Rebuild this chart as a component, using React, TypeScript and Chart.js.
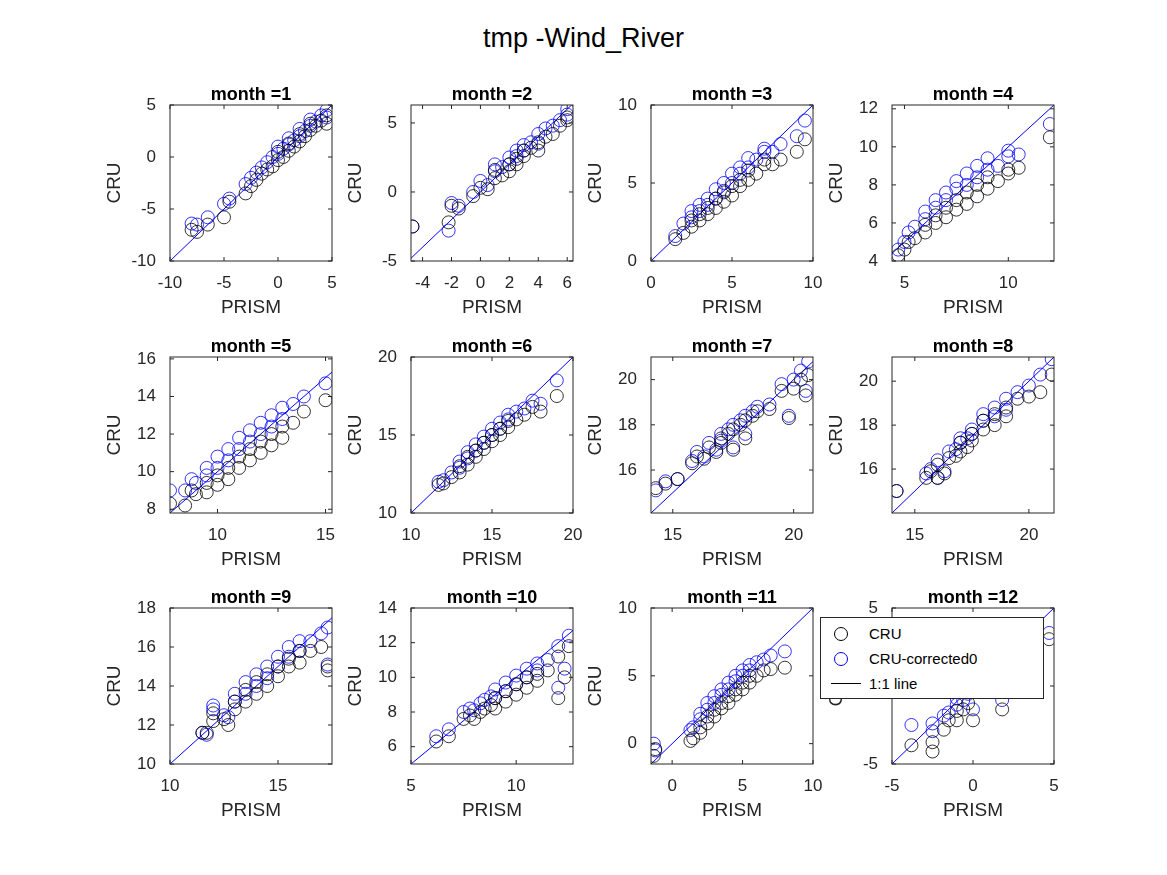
import { useEffect, useRef } from "react"
import { Chart, registerables } from "chart.js"

Chart.register(...registerables)

// PRISM (x), CRU (black) and CRU-corrected0 (blue) per month
const prism1 = [-8, -7.5, -6.5, -5, -4.5, -3, -2.5, -2, -1.5, -1, -0.5, 0, 0, 0.5, 1, 1, 1.5, 2, 2, 2.5, 3, 3, 3.5, 4, 4.5, 4.5]
const cru1 = [-7, -7.2, -6.5, -5.8, -4.3, -3.5, -2.8, -2.2, -1.6, -1.2, -0.9, -0.3, 0.5, 0, 0.6, 1.3, 1.0, 1.5, 2.2, 2.0, 2.6, 3.2, 3, 3.5, 3.2, 4]
const corr1 = [-6.4, -6.5, -5.8, -4.5, -4, -2.6, -2, -1.5, -1, -0.5, 0, 0.3, 1, 0.8, 1.2, 1.8, 1.6, 2, 2.7, 2.5, 3, 3.6, 3.4, 4, 3.8, 4.5]

const prism2 = [-4.7, -2.2, -2, -1.5, -0.5, 0, 0.5, 1, 1, 1.5, 2, 2, 2.5, 2.5, 3, 3, 3.5, 4, 4, 4.5, 5, 5.5, 6, 6]
const cru2 = [-2.5, -2.2, -1, -1.2, -0.3, 0.3, 0.2, 1, 1.6, 1.2, 2, 1.5, 2.4, 2, 3, 2.6, 3.2, 3.6, 3, 4, 4.2, 4.8, 5.2, 5.4]
const corr2 = [-2.5, -2.8, -0.8, -1, 0, 0.8, 0.5, 1.5, 2, 1.8, 2.5, 2, 3, 2.6, 3.4, 3, 3.6, 4.2, 3.5, 4.6, 4.8, 5.2, 5.6, 6]

const prism3 = [1.5, 2, 2.5, 2.5, 3, 3, 3.5, 3.5, 4, 4, 4.5, 4.5, 5, 5, 5.5, 5.5, 6, 6, 6.5, 7, 7, 7.5, 8, 9, 9.5]
const cru3 = [1.4, 1.8, 2.2, 2.6, 2.6, 3, 3, 3.4, 3.4, 4, 3.8, 4.4, 4.2, 4.8, 4.8, 5.2, 5.2, 5.8, 5.6, 6.2, 6.5, 6.2, 6.5, 7, 7.8]
const corr3 = [1.6, 2.4, 2.8, 3.2, 3.2, 3.6, 3.6, 4, 4, 4.6, 4.5, 5, 5, 5.6, 5.6, 6, 6, 6.6, 6.5, 7, 7.2, 7, 7.5, 8, 9]

const prism4 = [4.7, 5, 5.2, 5.5, 6, 6, 6.5, 6.5, 7, 7, 7.5, 7.5, 8, 8, 8.5, 8.5, 9, 9, 9.5, 10, 10, 10.5, 12]
const cru4 = [4.3, 4.6, 5, 5.2, 5.5, 5.9, 6, 6.4, 6.3, 6.8, 6.7, 7.2, 7, 7.6, 7.4, 8, 7.8, 8.4, 8.2, 8.6, 8.8, 8.9, 10.5]
const corr4 = [4.6, 5, 5.5, 5.8, 6.2, 6.6, 6.8, 7.2, 7.2, 7.6, 7.8, 8.2, 8, 8.6, 8.4, 9, 8.8, 9.4, 9, 9.5, 9.8, 9.6, 11.2]

const prism5 = [7.8, 8.5, 8.8, 9, 9.5, 9.5, 10, 10, 10.5, 10.5, 11, 11, 11.5, 11.5, 12, 12, 12.5, 12.5, 13, 13, 13.5, 14, 15]
const cru5 = [8.3, 8.2, 9, 8.8, 8.9, 9.4, 9.3, 9.8, 9.6, 10.2, 10.2, 10.8, 10.6, 11.2, 11, 11.6, 11.4, 12, 11.8, 12.4, 12.6, 13.2, 13.8]
const corr5 = [9, 9, 9.6, 9.4, 9.8, 10.2, 10.2, 10.8, 10.6, 11.2, 11.2, 11.8, 11.6, 12.2, 12, 12.6, 12.4, 13, 12.8, 13.4, 13.6, 14, 14.7]

const prism6 = [11.7, 12, 12.5, 13, 13, 13.5, 13.5, 14, 14, 14.5, 14.5, 15, 15, 15.5, 15.5, 16, 16, 16.5, 17, 17.5, 18, 19]
const cru6 = [11.8, 11.9, 12.3, 12.6, 13, 13.1, 13.6, 13.6, 14, 14.1, 14.5, 14.6, 15, 15, 15.4, 15.5, 15.9, 16, 16.3, 16.8, 16.5, 17.5]
const corr6 = [12, 12.1, 12.6, 12.9, 13.3, 13.5, 13.9, 14, 14.4, 14.5, 14.9, 15, 15.4, 15.4, 15.8, 16, 16.3, 16.5, 16.7, 17.2, 17, 18.5]

const prism7 = [14.3, 14.7, 15.2, 15.8, 16, 16.3, 16.5, 16.8, 17, 17, 17.3, 17.5, 17.5, 17.8, 18, 18, 18.3, 18.5, 19, 19.5, 19.8, 20, 20.3, 20.5, 20.6]
const cru7 = [15.2, 15.4, 15.6, 16.3, 16.6, 16.5, 17, 16.8, 17.4, 17.2, 17.6, 17.8, 16.9, 18, 18.2, 17.4, 18.4, 18.6, 18.7, 19.5, 18.3, 19.6, 20, 19.3, 20.2]
const corr7 = [15.1, 15.5, 15.6, 16.4, 16.8, 16.6, 17.2, 16.9, 17.6, 17.3, 17.8, 18, 17, 18.2, 18.4, 17.6, 18.6, 18.8, 18.9, 19.8, 18.4, 20, 20.4, 19.5, 20.8]

const prism8 = [14.2, 15.5, 15.7, 16, 16, 16.3, 16.5, 16.8, 17, 17, 17.3, 17.5, 17.5, 18, 18, 18.5, 18.5, 19, 19, 19.5, 20, 20.5, 21]
const cru8 = [15, 15.6, 15.9, 15.6, 16.2, 15.8, 16.5, 16.6, 17.2, 16.8, 17, 17.6, 17.3, 17.8, 18.2, 18, 18.5, 18.4, 18.8, 19.2, 19.3, 19.5, 20.3]
const corr8 = [15, 15.8, 16, 15.6, 16.4, 15.9, 16.8, 16.9, 17.4, 17.2, 17.4, 17.8, 17.6, 18.2, 18.5, 18.4, 18.8, 18.7, 19.2, 19.5, 19.8, 20.3, 21]

const prism9 = [11.5, 11.7, 12, 12, 12.5, 12.7, 13, 13, 13.5, 13.5, 14, 14, 14.5, 14.5, 15, 15, 15.5, 15.5, 16, 16, 16.5, 17, 17.3, 17.3]
const cru9 = [11.6, 11.6, 12.6, 12.2, 12.3, 12, 12.8, 13.2, 13.2, 13.8, 13.6, 14.2, 14, 14.6, 14.5, 15, 15, 15.4, 15.2, 15.8, 15.8, 16, 15, 14.8]
const corr9 = [11.6, 11.5, 13, 12.8, 12.5, 12.4, 13.2, 13.6, 13.6, 14.2, 14, 14.6, 14.4, 15, 15, 15.5, 15.5, 16, 15.8, 16.3, 16.3, 16.7, 17, 15.1]

const prism10 = [6.2, 6.8, 7.5, 7.8, 8, 8.3, 8.5, 8.8, 9, 9, 9.5, 9.5, 10, 10, 10.5, 10.5, 11, 11, 11.5, 12, 12, 12.3, 12.5]
const cru10 = [6.3, 6.6, 7.6, 7.8, 7.6, 8, 8.2, 8.4, 8.2, 8.8, 8.6, 9.2, 9, 9.6, 9.4, 10, 9.8, 10.2, 10.4, 11.2, 8.8, 10, 11.8]
const corr10 = [6.6, 7, 8, 8.2, 8.1, 8.5, 8.7, 8.9, 8.8, 9.3, 9.2, 9.7, 9.6, 10.1, 10, 10.5, 10.4, 10.8, 11, 11.8, 9.4, 10.5, 12.4]

const prism11 = [-1.3, -1.2, 1.3, 1.5, 2, 2, 2.5, 2.5, 3, 3, 3.5, 3.5, 4, 4, 4.5, 4.5, 5, 5, 5.5, 5.5, 6, 6.5, 7, 8]
const cru11 = [-0.9, -0.4, 0.2, 0.4, 0.8, 1.2, 1.5, 2, 2, 2.5, 2.6, 3, 3, 3.5, 3.6, 4, 4, 4.5, 4.5, 5, 5, 5.4, 5.5, 5.6]
const corr11 = [0, -0.5, 1, 1.2, 1.8, 2.2, 2.5, 3, 3, 3.5, 3.6, 4, 4, 4.5, 4.6, 5, 5, 5.4, 5.4, 5.8, 6, 6.2, 6.5, 6.8]

const prism12 = [-3.8, -2.5, -2.5, -1.8, -1.5, -1, -1, -0.6, -0.3, 0, 1.8, 4.7]
const cru12 = [-3.8, -4.2, -3.6, -2.8, -2.2, -2.2, -1.6, -1.5, -1.1, -2.2, -1.5, 3]
const corr12 = [-2.5, -2.9, -2.4, -1.9, -1.7, -1.2, -0.8, -0.9, -0.5, -1.5, -0.9, 3.4]

// axis limits [xmin, xmax, ymin, ymax] and tick values
const limits = [
  [-10, 5, -10, 5], [-4.8, 6.4, -5, 6.3], [0, 10, 0, 10], [4.4, 12.2, 4, 12.2],
  [7.8, 15.3, 7.8, 16.1], [10, 20, 10, 20], [14.1, 20.8, 14.1, 21], [14, 21.1, 14, 21.1],
  [10, 17.5, 10, 18], [5, 12.7, 5, 14], [-1.5, 10, -1.5, 10], [-5, 5, -5, 5],
]
const xTicks = [
  [-10, -5, 0, 5], [-4, -2, 0, 2, 4, 6], [0, 5, 10], [5, 10],
  [10, 15], [10, 15, 20], [15, 20], [15, 20],
  [10, 15], [5, 10], [0, 5, 10], [-5, 0, 5],
]
const yTicks = [
  [-10, -5, 0, 5], [-5, 0, 5], [0, 5, 10], [4, 6, 8, 10, 12],
  [8, 10, 12, 14, 16], [10, 15, 20], [16, 18, 20], [16, 18, 20],
  [10, 12, 14, 16, 18], [6, 8, 10, 12, 14], [0, 5, 10], [-5, 0, 5],
]
const months = [
  [prism1, cru1, corr1], [prism2, cru2, corr2], [prism3, cru3, corr3], [prism4, cru4, corr4],
  [prism5, cru5, corr5], [prism6, cru6, corr6], [prism7, cru7, corr7], [prism8, cru8, corr8],
  [prism9, cru9, corr9], [prism10, cru10, corr10], [prism11, cru11, corr11], [prism12, cru12, corr12],
]

const colLeft = [170, 411, 651, 892]
const rowTop = [105, 357, 608]
const AX_W = 162
const AX_H = 156
const Y_W = 70
const X_H = 60
const TOP = 30
const FONT = "'Liberation Sans', Arial, sans-serif"

function Panel({ idx }) {
  const chartRef = useRef(null)
  const chartInstance = useRef(null)

  useEffect(() => {
    if (chartInstance.current) chartInstance.current.destroy()
    const [px, cru, corr] = months[idx]
    const [x0, x1, y0, y1] = limits[idx]
    const lo = Math.min(x0, y0)
    const hi = Math.max(x1, y1)

    // box, inward tick marks and the MATLAB-style labels
    const frame = {
      id: "frame",
      afterDraw: (chart) => {
        const { ctx, chartArea: a, scales } = chart
        ctx.save()
        ctx.strokeStyle = "#262626"
        ctx.lineWidth = 1
        ctx.strokeRect(a.left, a.top, a.right - a.left, a.bottom - a.top)
        ctx.beginPath()
        xTicks[idx].forEach((v) => {
          const p = scales.x.getPixelForValue(v)
          ctx.moveTo(p, a.bottom); ctx.lineTo(p, a.bottom - 4)
          ctx.moveTo(p, a.top); ctx.lineTo(p, a.top + 4)
        })
        yTicks[idx].forEach((v) => {
          const p = scales.y.getPixelForValue(v)
          ctx.moveTo(a.left, p); ctx.lineTo(a.left + 4, p)
          ctx.moveTo(a.right, p); ctx.lineTo(a.right - 4, p)
        })
        ctx.stroke()
        ctx.fillStyle = "#000"
        ctx.textAlign = "center"
        ctx.textBaseline = "alphabetic"
        ctx.font = `bold 18px ${FONT}`
        ctx.fillText("month =" + (idx + 1), (a.left + a.right) / 2, a.top - 5)
        ctx.fillStyle = "#262626"
        ctx.font = `19px ${FONT}`
        ctx.textBaseline = "middle"
        ctx.fillText("PRISM", (a.left + a.right) / 2, a.bottom + 47)
        ctx.translate(a.left - 55, (a.top + a.bottom) / 2)
        ctx.rotate(-Math.PI / 2)
        ctx.fillText("CRU", 0, 0)
        ctx.restore()
      },
    }

    chartInstance.current = new Chart(chartRef.current.getContext("2d"), {
      type: "scatter",
      data: {
        datasets: [
          {
            label: "CRU",
            data: px.map((x, i) => ({ x, y: cru[i] })),
            borderColor: "#000",
            backgroundColor: "transparent",
            pointRadius: 6.5,
            borderWidth: 0.8,
          },
          {
            label: "CRU-corrected0",
            data: px.map((x, i) => ({ x, y: corr[i] })),
            borderColor: "#0000ff",
            backgroundColor: "transparent",
            pointRadius: 6.5,
            borderWidth: 0.8,
          },
          {
            type: "line",
            label: "1:1 line",
            data: [{ x: lo, y: lo }, { x: hi, y: hi }],
            borderColor: "#0000ff",
            borderWidth: 1,
            pointRadius: 0,
          },
        ],
      },
      options: {
        animation: false,
        responsive: false,
        events: [],
        layout: { padding: { top: TOP, right: 18, left: 0, bottom: 0 } },
        plugins: { legend: { display: false }, tooltip: { enabled: false } },
        scales: {
          x: {
            type: "linear",
            min: x0,
            max: x1,
            afterBuildTicks: (s) => { s.ticks = xTicks[idx].map((value) => ({ value })) },
            afterFit: (s) => { s.height = X_H },
            grid: { display: false },
            border: { display: false },
            ticks: { color: "#262626", font: { family: FONT, size: 17 }, padding: 4 },
          },
          y: {
            type: "linear",
            min: y0,
            max: y1,
            afterBuildTicks: (s) => { s.ticks = yTicks[idx].map((value) => ({ value })) },
            afterFit: (s) => { s.width = Y_W },
            grid: { display: false },
            border: { display: false },
            ticks: { color: "#262626", font: { family: FONT, size: 17 }, padding: 6 },
          },
        },
      },
      plugins: [frame],
    })
    return () => {
      if (chartInstance.current) chartInstance.current.destroy()
    }
  }, [idx])

  const col = idx % 4
  const row = Math.floor(idx / 4)
  return (
    <canvas
      ref={chartRef}
      width={Y_W + AX_W + 18}
      height={TOP + AX_H + X_H}
      style={{ position: "absolute", left: colLeft[col] - Y_W, top: rowTop[row] - TOP }}
    />
  )
}

export default function App() {
  const legendRow = { display: "flex", alignItems: "center", height: 25 }
  const marker = (c) => (
    <span style={{ width: 40, display: "flex", justifyContent: "center" }}>
      <span style={{ width: 12, height: 12, borderRadius: "50%", border: `1px solid ${c}` }} />
    </span>
  )
  return (
    <div style={{ position: "relative", width: 1167, height: 875, margin: -8, background: "#fff", fontFamily: FONT }}>
      <div style={{ position: "absolute", left: 0, width: 1167, top: 23, textAlign: "center", fontSize: 27, color: "#000" }}>
        tmp -Wind_River
      </div>
      {months.map((_, i) => <Panel key={i} idx={i} />)}
      <div style={{ position: "absolute", left: 820, top: 617, width: 224, height: 82, background: "#fff", border: "1px solid #262626", fontSize: 15, color: "#000", boxSizing: "border-box", paddingTop: 3 }}>
        <div style={legendRow}>{marker("#000")}<span style={{ marginLeft: 8 }}>CRU</span></div>
        <div style={legendRow}>{marker("#0000ff")}<span style={{ marginLeft: 8 }}>CRU-corrected0</span></div>
        <div style={legendRow}>
          <span style={{ width: 40, display: "flex", justifyContent: "center" }}>
            <span style={{ width: 40, height: 1, background: "#000", marginLeft: 10 }} />
          </span>
          <span style={{ marginLeft: 8 }}>1:1 line</span>
        </div>
      </div>
    </div>
  )
}
